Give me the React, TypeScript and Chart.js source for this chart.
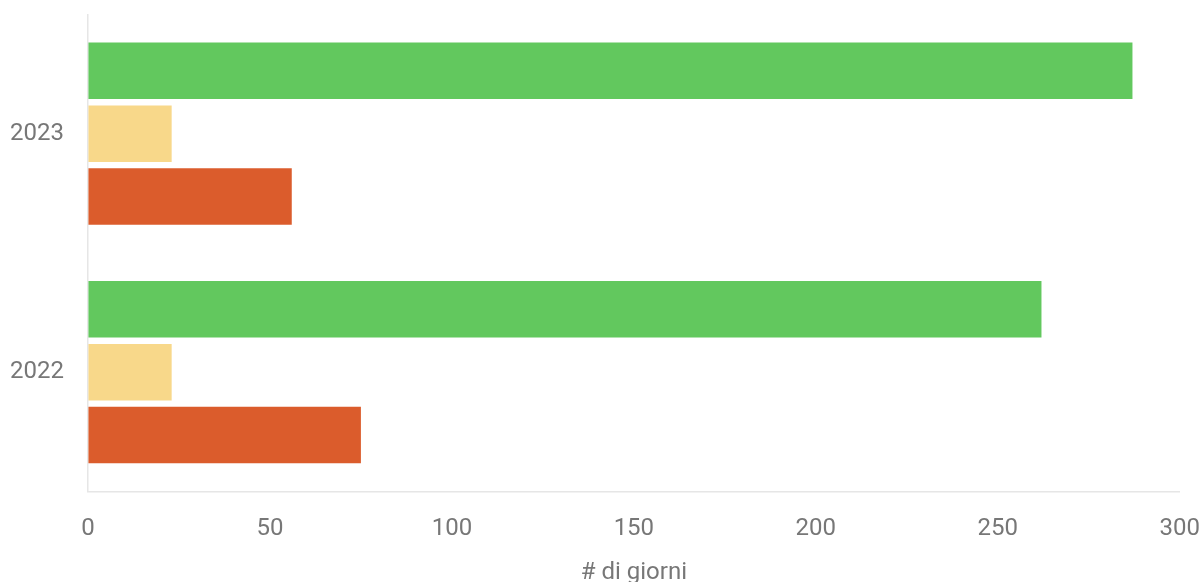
import React, { useEffect, useRef } from "react";
import { Chart, registerables } from "chart.js";

Chart.register(...registerables);

const categories = ["2023", "2022"];
const greenValues = [287, 262];
const yellowValues = [23, 23];
const orangeValues = [56, 75];
const xTicks = [0, 50, 100, 150, 200, 250, 300];
const xTitle = "# di giorni";

export default function App() {
  const ref = useRef<HTMLCanvasElement | null>(null);

  useEffect(() => {
    document.body.style.margin = "0";
    document.body.style.overflow = "hidden";
    const font = { family: "Roboto, 'Liberation Sans', sans-serif", size: 24 };
    const chart = new Chart(ref.current!, {
      type: "bar",
      data: {
        labels: categories,
        datasets: [
          { label: "Buono", data: greenValues, backgroundColor: "#62c85e" },
          { label: "Moderato", data: yellowValues, backgroundColor: "#f8d88a" },
          { label: "Scarso", data: orangeValues, backgroundColor: "#db5c2c" },
        ],
      },
      options: {
        indexAxis: "y",
        animation: false,
        responsive: true,
        maintainAspectRatio: false,
        layout: { padding: { top: 0, left: 10, right: 0, bottom: 0 } },
        datasets: { bar: { categoryPercentage: 0.79, barPercentage: 0.9 } },
        plugins: { legend: { display: false }, tooltip: { enabled: false } },
        scales: {
          x: {
            min: 0,
            max: 300,
            afterBuildTicks: (scale: any) => {
              scale.ticks = xTicks.map((v) => ({ value: v }));
            },
            grid: { color: "transparent", drawTicks: true, tickLength: 23 },
            border: { display: true, color: "#e6e6e6", width: 1.5 },
            ticks: { color: "#777", font, padding: 0 },
            title: {
              display: true,
              text: xTitle,
              color: "#777",
              font,
              padding: { top: 15, bottom: 0 },
            },
          },
          y: {
            grid: { color: "transparent", drawTicks: true, tickLength: 24 },
            border: { display: true, color: "#e6e6e6", width: 1.5 },
            ticks: { color: "#777", font, padding: 0 },
          },
        },
      },
    });
    return () => chart.destroy();
  }, []);

  return (
    <div style={{ position: "fixed", left: 0, top: 0, width: "1200px", height: "587px" }}>
      <canvas ref={ref} />
    </div>
  );
}
